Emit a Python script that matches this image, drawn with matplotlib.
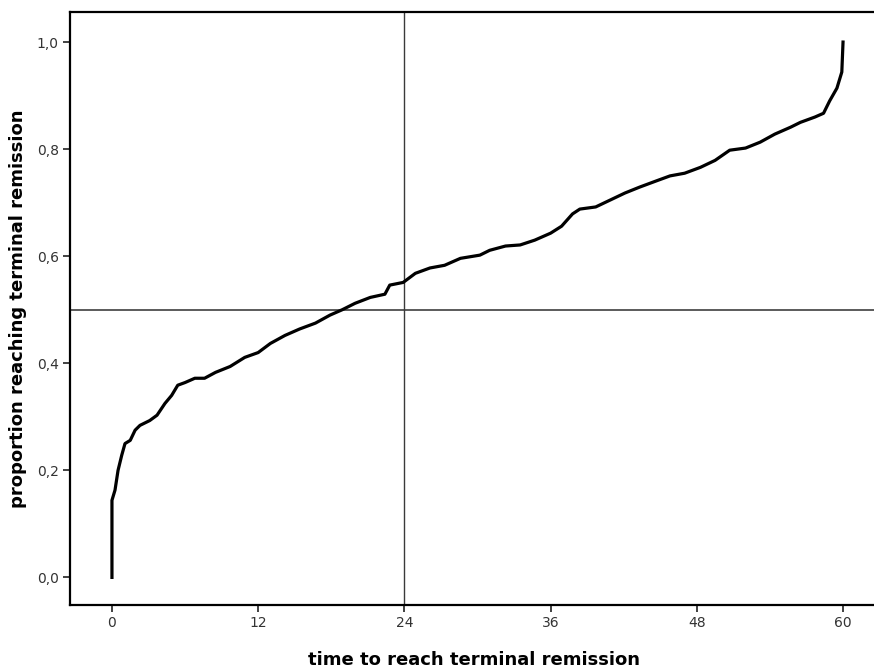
import matplotlib
matplotlib.use('Agg')
from matplotlib import pyplot as plt

# time (months) and cumulative proportion reaching terminal remission
time = [0.0, 0.0, 0.25, 0.5, 0.8, 1.07, 1.5, 1.9, 2.3, 3.1, 3.7, 4.35, 4.9, 5.4,
        6.0, 6.8, 7.6, 8.5, 9.7, 10.9, 12.0, 13.0, 14.2, 15.4, 16.7, 17.9, 18.9,
        19.95, 21.2, 22.4, 22.8, 23.9, 24.9, 26.1, 27.3, 28.6, 30.2, 31.0, 32.3,
        33.5, 34.7, 36.0, 36.9, 37.8, 38.4, 39.7, 40.9, 42.1, 43.3, 44.6, 45.8,
        47.0, 48.3, 49.5, 50.7, 52.0, 53.2, 54.4, 55.7, 56.5, 57.7, 58.4, 58.9,
        59.5, 59.9, 60.0]
prop = [0.0, 0.144, 0.163, 0.2, 0.228, 0.25, 0.256, 0.275, 0.284, 0.293, 0.303,
        0.325, 0.34, 0.359, 0.364, 0.372, 0.372, 0.383, 0.394, 0.411, 0.42, 0.437,
        0.452, 0.464, 0.475, 0.49, 0.5, 0.512, 0.523, 0.529, 0.546, 0.551, 0.568,
        0.578, 0.583, 0.596, 0.602, 0.611, 0.619, 0.621, 0.63, 0.643, 0.656, 0.679,
        0.688, 0.692, 0.705, 0.718, 0.729, 0.74, 0.75, 0.755, 0.766, 0.779, 0.798,
        0.802, 0.813, 0.828, 0.841, 0.85, 0.86, 0.867, 0.89, 0.914, 0.944, 1.0]

xticks = [0, 12, 24, 36, 48, 60]
yticks = [0.0, 0.2, 0.4, 0.6, 0.8, 1.0]
ylabels = ['0,0', '0,2', '0,4', '0,6', '0,8', '1,0']

fig = plt.figure(figsize=(8.74, 6.71), dpi=100)
ax = fig.add_axes([0.080, 0.098, 0.925, 0.884])

ax.axhline(0.5, color='#5a5a5a', lw=1.4, zorder=1)
ax.axvline(24, color='#3a3a3a', lw=1.0, zorder=1)
ax.plot(time, prop, color='black', lw=2.3, solid_joinstyle='round', zorder=3)

ax.set_xlim(-3.45, 62.9)
ax.set_ylim(-0.052, 1.056)
ax.set_xticks(xticks)
ax.set_yticks(yticks)
ax.set_yticklabels(ylabels)

for s in ['left', 'bottom', 'top']:
    ax.spines[s].set_linewidth(1.6)
ax.spines['right'].set_visible(False)
ax.tick_params(direction='out', length=5, width=1.3, color='#333333',
               labelsize=10, labelcolor='#333333', pad=3)

ax.set_xlabel('time to reach terminal remission', fontsize=13,
              fontweight='bold', labelpad=15)
ax.set_ylabel('proportion reaching terminal remission', fontsize=13,
              fontweight='bold', labelpad=7)

fig.savefig('out.png', dpi=100)
